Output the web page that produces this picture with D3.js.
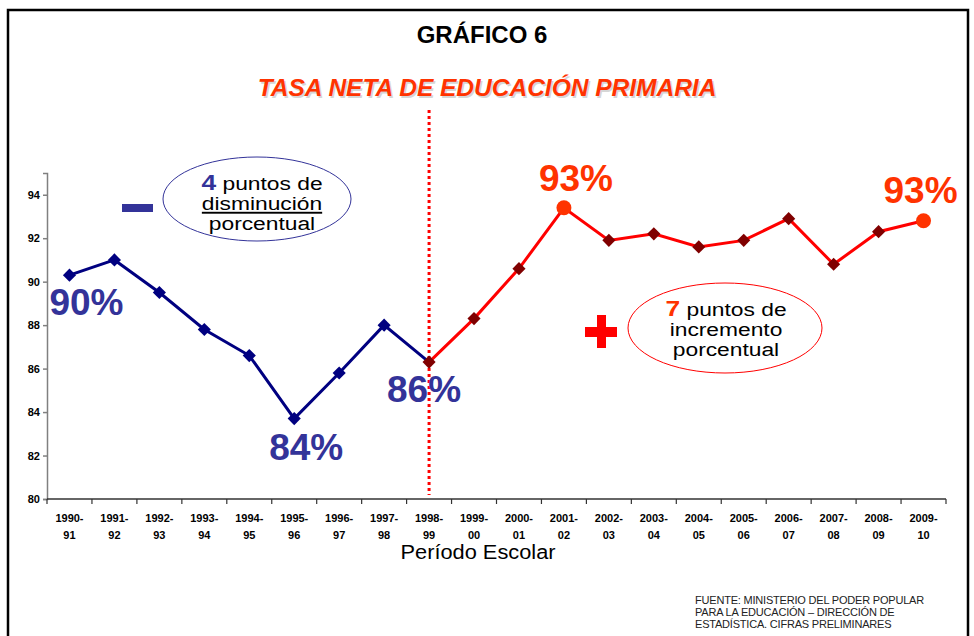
<!DOCTYPE html>
<html>
<head>
<meta charset="utf-8">
<script src="https://cdn.jsdelivr.net/npm/d3@7"></script>
<style>
  body { margin: 0; background: #fff; }
  svg { font-family: "Liberation Sans", Arial, sans-serif; }
</style>
</head>
<body>
<svg width="974" height="636"></svg>
<script>
// periods (two-line tick labels) and net enrolment rate
var periodos = ["1990-91", "1991-92", "1992-93", "1993-94", "1994-95", "1995-96", "1996-97",
  "1997-98", "1998-99", "1999-00", "2000-01", "2001-02", "2002-03", "2003-04", "2004-05",
  "2005-06", "2006-07", "2007-08", "2008-09", "2009-10"];
var tasa = [90.3, 91.0, 89.5, 87.8, 86.6, 83.7, 85.8, 88.0, 86.3, 88.3, 90.6, 93.4, 91.9,
  92.2, 91.6, 91.9, 92.9, 90.8, 92.3, 92.8];
var yTicks = [80, 82, 84, 86, 88, 90, 92, 94];
var corte = "1998-99";
var destacados = ["2001-02", "2009-10"];
// percent callouts: period, text, colour
var etiquetas = [
  { p: "1990-91", t: "90%", c: "#333399" },
  { p: "1995-96", t: "84%", c: "#333399" },
  { p: "1998-99", t: "86%", c: "#333399" },
  { p: "2001-02", t: "93%", c: "#FF3300" },
  { p: "2009-10", t: "93%", c: "#FF3300" }
];

var svg = d3.select("svg"),
  margin = { top: 173, left: 47, right: 28, bottom: 137 },
  width = 974 - margin.left - margin.right,
  height = 636 - margin.top - margin.bottom;

// frame
svg.append("path")
  .attr("d", "M8,640 V10 H968 V640")
  .attr("fill", "none")
  .attr("stroke", "#000")
  .attr("stroke-width", 2.5);

svg.append("text")
  .attr("x", 482).attr("y", 43)
  .attr("text-anchor", "middle")
  .attr("font-size", 24).attr("font-weight", "bold")
  .text("GRÁFICO 6");

var sub = { x: 487, y: 96 };
svg.append("text")
  .attr("x", sub.x + 1.5).attr("y", sub.y + 1.5)
  .attr("text-anchor", "middle")
  .attr("font-size", 24.5).attr("font-weight", "bold").attr("font-style", "italic")
  .attr("fill", "#bbb").attr("opacity", 0.6)
  .text("TASA NETA DE EDUCACIÓN PRIMARIA");
svg.append("text")
  .attr("x", sub.x).attr("y", sub.y)
  .attr("text-anchor", "middle")
  .attr("font-size", 24.5).attr("font-weight", "bold").attr("font-style", "italic")
  .attr("fill", "#FF3300")
  .text("TASA NETA DE EDUCACIÓN PRIMARIA");

var g = svg.append("g")
  .attr("transform", "translate(" + margin.left + "," + margin.top + ")");

var x = d3.scaleBand().domain(periodos).range([0, width]);
var y = d3.scaleLinear().domain([80, 95]).range([height, 0]);
var cx = function(p) { return x(p) + x.bandwidth() / 2; };

// y axis
var yAxis = g.append("g")
  .call(d3.axisLeft(y).tickValues(yTicks).tickSize(4).tickFormat(d3.format("d")));
yAxis.select(".domain").attr("stroke", "#808080").attr("stroke-width", 1.5);
yAxis.selectAll(".tick line").attr("stroke", "#808080").attr("stroke-width", 1.5);
yAxis.selectAll("text")
  .attr("font-size", 11).attr("font-weight", "bold").attr("fill", "#000")
  .attr("font-family", "Liberation Sans, Arial, sans-serif");

// x axis: ticks at band boundaries
var xg = g.append("g").attr("transform", "translate(0," + height + ")");
xg.append("line")
  .attr("x1", 0).attr("x2", width)
  .attr("stroke", "#333").attr("stroke-width", 1.5);
xg.selectAll(".bt")
  .data(periodos.concat(["end"]))
  .enter().append("line")
  .attr("x1", function(d, i) { return i * x.bandwidth(); })
  .attr("x2", function(d, i) { return i * x.bandwidth(); })
  .attr("y1", 0).attr("y2", 5)
  .attr("stroke", "#333").attr("stroke-width", 1.2);
var lbl = xg.selectAll(".lbl")
  .data(periodos)
  .enter().append("text")
  .attr("text-anchor", "middle")
  .attr("font-size", 11).attr("font-weight", "bold");
lbl.append("tspan")
  .attr("x", function(d) { return cx(d); }).attr("y", 23)
  .text(function(d) { return d.slice(0, 5); });
lbl.append("tspan")
  .attr("x", function(d) { return cx(d); }).attr("y", 40)
  .text(function(d) { return d.slice(5); });

svg.append("text")
  .attr("x", 478).attr("y", 559)
  .attr("text-anchor", "middle")
  .attr("font-size", 20)
  .attr("textLength", 155).attr("lengthAdjust", "spacingAndGlyphs")
  .text("Período Escolar");

// dotted divider at the cut period
g.append("line")
  .attr("x1", cx(corte)).attr("x2", cx(corte))
  .attr("y1", -63).attr("y2", height - 4)
  .attr("stroke", "#FF0000").attr("stroke-width", 3)
  .attr("stroke-dasharray", "3,3");

var datos = periodos.map(function(p, i) { return { p: p, v: tasa[i], i: i }; });
var iCorte = periodos.indexOf(corte);
var line = d3.line()
  .x(function(d) { return cx(d.p); })
  .y(function(d) { return y(d.v); });

g.append("path")
  .datum(datos.slice(0, iCorte + 1))
  .attr("d", line)
  .attr("fill", "none").attr("stroke", "#000080").attr("stroke-width", 3);
g.append("path")
  .datum(datos.slice(iCorte))
  .attr("d", line)
  .attr("fill", "none").attr("stroke", "#FF0000").attr("stroke-width", 3);

var diamond = d3.symbol().type(d3.symbolDiamond2).size(110);
g.selectAll(".m")
  .data(datos.filter(function(d) { return destacados.indexOf(d.p) < 0; }))
  .enter().append("path")
  .attr("d", diamond)
  .attr("transform", function(d) { return "translate(" + cx(d.p) + "," + y(d.v) + ")"; })
  .attr("fill", function(d) { return d.i < iCorte ? "#000080" : "#800000"; });
g.selectAll(".c")
  .data(datos.filter(function(d) { return destacados.indexOf(d.p) >= 0; }))
  .enter().append("circle")
  .attr("cx", function(d) { return cx(d.p); })
  .attr("cy", function(d) { return y(d.v); })
  .attr("r", 7.5)
  .attr("fill", "#FF3300");

// percent callouts, placed relative to their points
var offs = {
  "1990-91": [17, 40], "1995-96": [12, 41], "1998-99": [-5, 40],
  "2001-02": [12, -17], "2009-10": [-3, -18]
};
g.selectAll(".pct")
  .data(etiquetas)
  .enter().append("text")
  .attr("x", function(d) { return cx(d.p) + offs[d.p][0]; })
  .attr("y", function(d) { return y(tasa[periodos.indexOf(d.p)]) + offs[d.p][1]; })
  .attr("text-anchor", "middle")
  .attr("font-size", 37).attr("font-weight", "bold")
  .attr("fill", function(d) { return d.c; })
  .text(function(d) { return d.t; });

// decrease note (text is stretched horizontally in the original)
svg.append("rect").attr("x", 122).attr("y", 204).attr("width", 31).attr("height", 8)
  .attr("fill", "#333399");
svg.append("ellipse").attr("cx", 257).attr("cy", 199).attr("rx", 94).attr("ry", 42)
  .attr("fill", "none").attr("stroke", "#333399").attr("stroke-width", 1);
var n1 = svg.append("g").attr("transform", "translate(262,0) scale(1.2,1)");
var t1 = n1.append("text").attr("text-anchor", "middle").attr("font-size", 19);
t1.append("tspan").attr("x", 0).attr("y", 190)
  .attr("font-weight", "bold").attr("font-size", 22).attr("fill", "#333399").text("4");
t1.append("tspan").text(" puntos de");
n1.append("text").attr("x", 0).attr("y", 210).attr("text-anchor", "middle")
  .attr("font-size", 19).attr("text-decoration", "underline").text("disminución");
n1.append("text").attr("x", 0).attr("y", 230).attr("text-anchor", "middle")
  .attr("font-size", 19).text("porcentual");

// increase note
svg.append("rect").attr("x", 585).attr("y", 327).attr("width", 32).attr("height", 10)
  .attr("fill", "#FF0000");
svg.append("rect").attr("x", 597).attr("y", 315).attr("width", 9).attr("height", 33)
  .attr("fill", "#FF0000");
svg.append("ellipse").attr("cx", 725).attr("cy", 328).attr("rx", 97).attr("ry", 45)
  .attr("fill", "none").attr("stroke", "#FF0000").attr("stroke-width", 1);
var n2 = svg.append("g").attr("transform", "translate(726,0) scale(1.2,1)");
var t2 = n2.append("text").attr("text-anchor", "middle").attr("font-size", 19);
t2.append("tspan").attr("x", 0).attr("y", 316)
  .attr("font-weight", "bold").attr("font-size", 22).attr("fill", "#FF3300").text("7");
t2.append("tspan").text(" puntos de");
n2.append("text").attr("x", 0).attr("y", 336).attr("text-anchor", "middle")
  .attr("font-size", 19).text("incremento");
n2.append("text").attr("x", 0).attr("y", 356).attr("text-anchor", "middle")
  .attr("font-size", 19).text("porcentual");

// source
var fuente = ["FUENTE: MINISTERIO DEL PODER POPULAR",
  "PARA LA EDUCACIÓN – DIRECCIÓN DE",
  "ESTADÍSTICA. CIFRAS PRELIMINARES"];
svg.selectAll(".src")
  .data(fuente)
  .enter().append("text")
  .attr("x", 695)
  .attr("y", function(d, i) { return 604 + i * 12; })
  .attr("font-size", 11).attr("letter-spacing", -0.2).attr("fill", "#222")
  .text(function(d) { return d; });
</script>
</body>
</html>
